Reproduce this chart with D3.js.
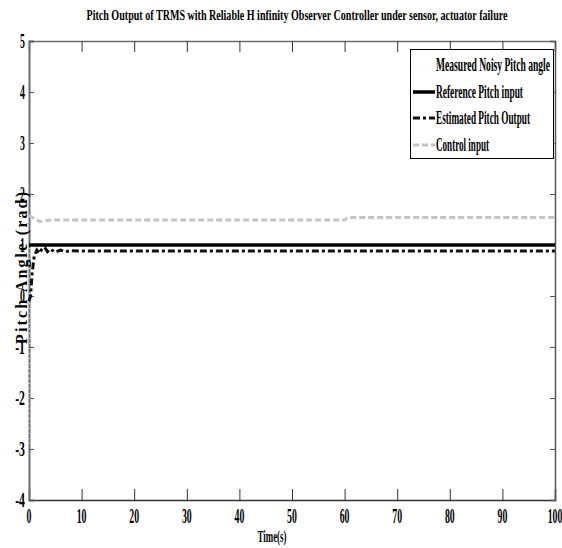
<!DOCTYPE html>
<html>
<head>
<meta charset="utf-8">
<script src="https://cdn.jsdelivr.net/npm/d3@7"></script>
<style>
  body { margin: 0; background: #fff; }
  svg { display: block; font-family: "Liberation Serif", "DejaVu Serif", serif; font-weight: bold; }
</style>
</head>
<body>
<svg id="chart"></svg>
<script>
// data
const refTime = [0, 100];
const refPitch = [1.0, 1.0];

const estTime = [0, 0.3, 0.6, 1, 1.5, 2, 2.5, 3, 3.5, 4, 5, 6, 7, 8, 10, 20, 40, 60, 80, 100];
const estPitch = [-0.1, 0.0, 0.45, 0.78, 0.9, 0.84, 0.93, 0.95, 0.87, 0.92, 0.86, 0.9, 0.87, 0.89, 0.88, 0.88, 0.88, 0.88, 0.88, 0.88];

const ctrlTime = [0, 1, 2, 3, 4, 10, 30, 60, 60.5, 80, 100];
const ctrlInput = [1.58, 1.52, 1.46, 1.47, 1.49, 1.49, 1.49, 1.49, 1.54, 1.54, 1.54];

const measTime = [0, 0.15, 1, 100];
const measPitch = [-2.9, 0.95, 1.0, 1.0];

const xTicks = [0, 10, 20, 30, 40, 50, 60, 70, 80, 90, 100];
const yTicks = [5, 4, 3, 2, 1, 0, -1, -2, -3, -4];

const legendLabels = ["Measured Noisy Pitch angle", "Reference Pitch input", "Estimated Pitch Output", "Control input"];

const width = 562, height = 548;
const marginLeft = 29, marginRight = 7, marginTop = 41, marginBottom = 48;

const svg = d3.select("#chart")
    .attr("width", width)
    .attr("height", height)
    .attr("viewBox", [0, 0, width, height]);

const x = d3.scaleLinear([0, 100], [marginLeft, width - marginRight]);
const y = d3.scaleLinear([-4, 5], [height - marginBottom, marginTop]);

// squashed serif text, like the exported figure
function label(g, txt, px, py, size, len, anchor = "middle", adjust = "spacingAndGlyphs") {
  return g.append("text")
      .attr("x", px)
      .attr("y", py)
      .attr("font-size", size)
      .attr("text-anchor", anchor)
      .attr("textLength", len)
      .attr("lengthAdjust", adjust)
      .attr("fill", "#000")
      .text(txt);
}

// axes: ticks inside, labels drawn separately
const frame = "#6e6e6e";
svg.append("g")
    .attr("transform", `translate(0,${y(-4)})`)
    .call(d3.axisBottom(x).tickValues(xTicks).tickSize(-11).tickFormat(""))
    .call(g => g.select(".domain").attr("stroke", "#333").attr("stroke-width", 1.5))
    .call(g => g.selectAll(".tick line").attr("stroke", "#333"));
svg.append("g")
    .attr("transform", `translate(0,${y(5)})`)
    .call(d3.axisTop(x).tickValues(xTicks).tickSize(-11).tickFormat(""))
    .call(g => g.select(".domain").attr("stroke", frame).attr("stroke-width", 1.5))
    .call(g => g.selectAll(".tick line").attr("stroke", "#333"));
svg.append("g")
    .attr("transform", `translate(${x(0)},0)`)
    .call(d3.axisLeft(y).tickValues(yTicks).tickSize(-5).tickFormat(""))
    .call(g => g.select(".domain").attr("stroke", frame).attr("stroke-width", 2))
    .call(g => g.selectAll(".tick line").attr("stroke", "#555"));
svg.append("g")
    .attr("transform", `translate(${x(100)},0)`)
    .call(d3.axisRight(y).tickValues(yTicks).tickSize(-5).tickFormat(""))
    .call(g => g.select(".domain").attr("stroke", "#555").attr("stroke-width", 1.5))
    .call(g => g.selectAll(".tick line").attr("stroke", "#555"));

// series
const line = d3.line().x(d => x(d[0])).y(d => y(d[1]));
const zip = (a, b) => a.map((t, i) => [t, b[i]]);

const series = [
  {name: legendLabels[0], pts: zip(measTime, measPitch), color: "#dcdcdc", w: 1.2, dash: "1,4"},
  {name: legendLabels[1], pts: zip(refTime, refPitch), color: "#000", w: 3.5, dash: null},
  {name: legendLabels[2], pts: zip(estTime, estPitch), color: "#111", w: 3, dash: "7,3,3,3"},
  {name: legendLabels[3], pts: zip(ctrlTime, ctrlInput), color: "#c4c4c4", w: 3, dash: "6,3"}
];

svg.append("g")
    .attr("fill", "none")
  .selectAll("path")
  .data(series)
  .join("path")
    .attr("stroke", d => d.color)
    .attr("stroke-width", d => d.w)
    .attr("stroke-dasharray", d => d.dash)
    .attr("d", d => line(d.pts));

// tick labels
const tl = svg.append("g");
xTicks.forEach(t => label(tl, String(t), x(t), 523, 20, String(t).length * 4.9));
yTicks.forEach(t => label(tl, String(t), 25, y(t) + 7, 20, String(t).length * 4.9, "end"));

// titles
label(svg, "Pitch Output of TRMS with Reliable H infinity Observer Controller under sensor, actuator failure",
      297, 20, 14, 421);
label(svg, "Time(s)", 272, 542, 17, 29);
label(svg.append("g").attr("transform", "translate(27,268) rotate(-90)"),
      "Pitch Angle (rad)", 0, 0, 16, 152, "middle", "spacing");

// legend
const lg = svg.append("g");
lg.append("rect")
    .attr("x", 410.5).attr("y", 49.5)
    .attr("width", 143).attr("height", 109)
    .attr("fill", "#fff").attr("stroke", "#000").attr("stroke-width", 1);
const legY = [65, 92, 118, 145];
const legLen = [114, 87, 94, 53];
series.forEach((s, i) => {
  lg.append("line")
      .attr("x1", 413).attr("x2", 435)
      .attr("y1", legY[i]).attr("y2", legY[i])
      .attr("stroke", i === 0 ? "#f4f4f4" : s.color)
      .attr("stroke-width", s.w)
      .attr("stroke-dasharray", s.dash);
  label(lg, s.name, 436, legY[i] + 6, 18, legLen[i], "start");
});
</script>
</body>
</html>
